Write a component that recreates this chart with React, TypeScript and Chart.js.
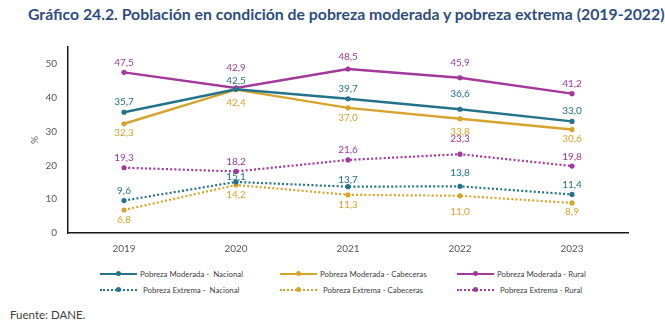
import React, { useEffect, useRef } from "react";
import { Chart, registerables } from "chart.js";

Chart.register(...registerables);

// ---- Data ----
const YEARS = ["2019", "2020", "2021", "2022", "2023"];
const MOD_NACIONAL = [35.7, 42.5, 39.7, 36.6, 33.0];
const MOD_CABECERAS = [32.3, 42.4, 37.0, 33.8, 30.6];
const MOD_RURAL = [47.5, 42.9, 48.5, 45.9, 41.2];
const EXT_NACIONAL = [9.6, 15.1, 13.7, 13.8, 11.4];
const EXT_CABECERAS = [6.8, 14.2, 11.3, 11.0, 8.9];
const EXT_RURAL = [19.3, 18.2, 21.6, 23.3, 19.8];
const Y_TICK_STEP = 10;
const Y_MAX = 55;

const TITLE = "Gráfico 24.2. Población en condición de pobreza moderada y pobreza extrema (2019-2022)";
const SOURCE = "Fuente: DANE.";

// ---- Styles ----
const TEAL = "#25738A";
const GOLD = "#D6A42C";
const PURPLE = "#A2399B";
const FONT = "Lato, 'Open Sans', sans-serif";

// vertical offset of each value label from its point (px)
const DY_MOD_NACIONAL = [-10, -8, -10, -15, -11];
const DY_MOD_CABECERAS = [9, 13, 10, 13, 9];
const DY_MOD_RURAL = [-10, -20, -12, -15, -10];
const DY_EXT_NACIONAL = [-10, -5, -7, -14, -10];
const DY_EXT_CABECERAS = [10, 10, 10, 16, 9];
const DY_EXT_RURAL = [-10, -10, -10, -15, -9];

const SERIES = [
  { label: "Pobreza Moderada -  Nacional", data: MOD_NACIONAL, color: TEAL, dotted: false, dy: DY_MOD_NACIONAL },
  { label: "Pobreza Moderada - Cabeceras", data: MOD_CABECERAS, color: GOLD, dotted: false, dy: DY_MOD_CABECERAS },
  { label: "Pobreza Moderada - Rural", data: MOD_RURAL, color: PURPLE, dotted: false, dy: DY_MOD_RURAL },
  { label: "Pobreza Extrema -  Nacional", data: EXT_NACIONAL, color: TEAL, dotted: true, dy: DY_EXT_NACIONAL },
  { label: "Pobreza Extrema - Cabeceras", data: EXT_CABECERAS, color: GOLD, dotted: true, dy: DY_EXT_CABECERAS },
  { label: "Pobreza Extrema - Rural", data: EXT_RURAL, color: PURPLE, dotted: true, dy: DY_EXT_RURAL },
];

const valueLabels = {
  id: "valueLabels",
  afterDatasetsDraw(chart: any) {
    const ctx = chart.ctx;
    chart.data.datasets.forEach((ds: any, i: number) => {
      const meta = chart.getDatasetMeta(i);
      meta.data.forEach((pt: any, j: number) => {
        const v = ds.data[j];
        ctx.save();
        ctx.font = `10px ${FONT}`;
        ctx.fillStyle = ds.borderColor;
        ctx.textAlign = "center";
        ctx.textBaseline = "middle";
        ctx.fillText(v.toFixed(1).replace(".", ","), pt.x, pt.y + ds.labelDy[j]);
        ctx.restore();
      });
    });
  },
};

function LegendItem({ s }: { s: any }) {
  return (
    <div style={{ display: "flex", alignItems: "center", height: 16 }}>
      <div style={{ position: "relative", width: 37, height: 2, marginRight: s.dotted ? 6 : 3 }}>
        <div
          style={{
            position: "absolute",
            left: 0,
            right: 0,
            top: 0,
            borderTop: s.dotted ? `2px dotted ${s.color}` : `2px solid ${s.color}`,
          }}
        />
        <div
          style={{
            position: "absolute",
            left: 16,
            top: -2,
            width: 5,
            height: 5,
            borderRadius: "50%",
            background: s.color,
          }}
        />
      </div>
      <span style={{ fontSize: 7.8, color: "#404040", whiteSpace: "pre" }}>{s.label}</span>
    </div>
  );
}

export default function App() {
  const ref = useRef<HTMLCanvasElement>(null);

  useEffect(() => {
    if (!ref.current) return;
    const chart = new Chart(ref.current, {
      type: "line",
      data: {
        labels: YEARS,
        datasets: SERIES.map((s) => ({
          label: s.label,
          data: s.data,
          borderColor: s.color,
          backgroundColor: s.color,
          borderWidth: s.dotted ? 2.2 : 2.4,
          borderDash: s.dotted ? [2, 2.2] : [],
          pointRadius: 2.6,
          pointBorderWidth: 0,
          pointBackgroundColor: s.color,
          tension: 0,
          fill: false,
          labelDy: s.dy,
        })) as any,
      },
      options: {
        animation: false,
        responsive: false,
        layout: { padding: { left: 0, right: 37, top: 15, bottom: 0 } },
        plugins: {
          legend: { display: false },
          tooltip: { enabled: false },
        },
        scales: {
          x: {
            offset: true,
            grid: { display: false, drawTicks: false },
            border: { display: true, color: "#1a1a1a", width: 1.5 },
            ticks: { color: "#595959", font: { family: FONT, size: 10 }, padding: 10 },
            afterFit: (scale: any) => {
              scale.height = 27;
            },
          },
          y: {
            min: 0,
            max: Y_MAX,
            grid: { display: false, drawTicks: false },
            border: { display: true, color: "#1a1a1a", width: 1.5 },
            ticks: { stepSize: Y_TICK_STEP, color: "#595959", font: { family: FONT, size: 10 }, padding: 11 },
            afterBuildTicks: (scale: any) => {
              scale.ticks = scale.ticks.filter((t: any) => t.value % Y_TICK_STEP === 0);
            },
            afterFit: (scale: any) => {
              scale.width = 68;
            },
            title: {
              display: true,
              text: "%",
              color: "#595959",
              font: { family: FONT, size: 10 },
              padding: { top: 29, bottom: 0 },
            },
          },
        },
      },
      plugins: [valueLabels],
    });
    return () => chart.destroy();
  }, []);

  return (
    <div
      style={{
        position: "fixed",
        left: 0,
        top: 0,
        width: 665,
        height: 324,
        background: "#fff",
        fontFamily: FONT,
        overflow: "hidden",
      }}
    >
      <div
        style={{
          position: "absolute",
          left: 28,
          top: 4,
          fontSize: 15.8,
          fontWeight: 700,
          color: "#2F4D7E",
          whiteSpace: "nowrap",
        }}
      >
        {TITLE}
      </div>
      <canvas ref={ref} width={665} height={230} style={{ position: "absolute", left: 0, top: 30 }} />
      <div style={{ position: "absolute", left: 100, top: 266 }}>
        <LegendItem s={SERIES[0]} />
        <LegendItem s={SERIES[3]} />
      </div>
      <div style={{ position: "absolute", left: 280, top: 266 }}>
        <LegendItem s={SERIES[1]} />
        <LegendItem s={SERIES[4]} />
      </div>
      <div style={{ position: "absolute", left: 457, top: 266 }}>
        <LegendItem s={SERIES[2]} />
        <LegendItem s={SERIES[5]} />
      </div>
      <div style={{ position: "absolute", left: 10, top: 308, fontSize: 11.5, color: "#404040" }}>{SOURCE}</div>
    </div>
  );
}
